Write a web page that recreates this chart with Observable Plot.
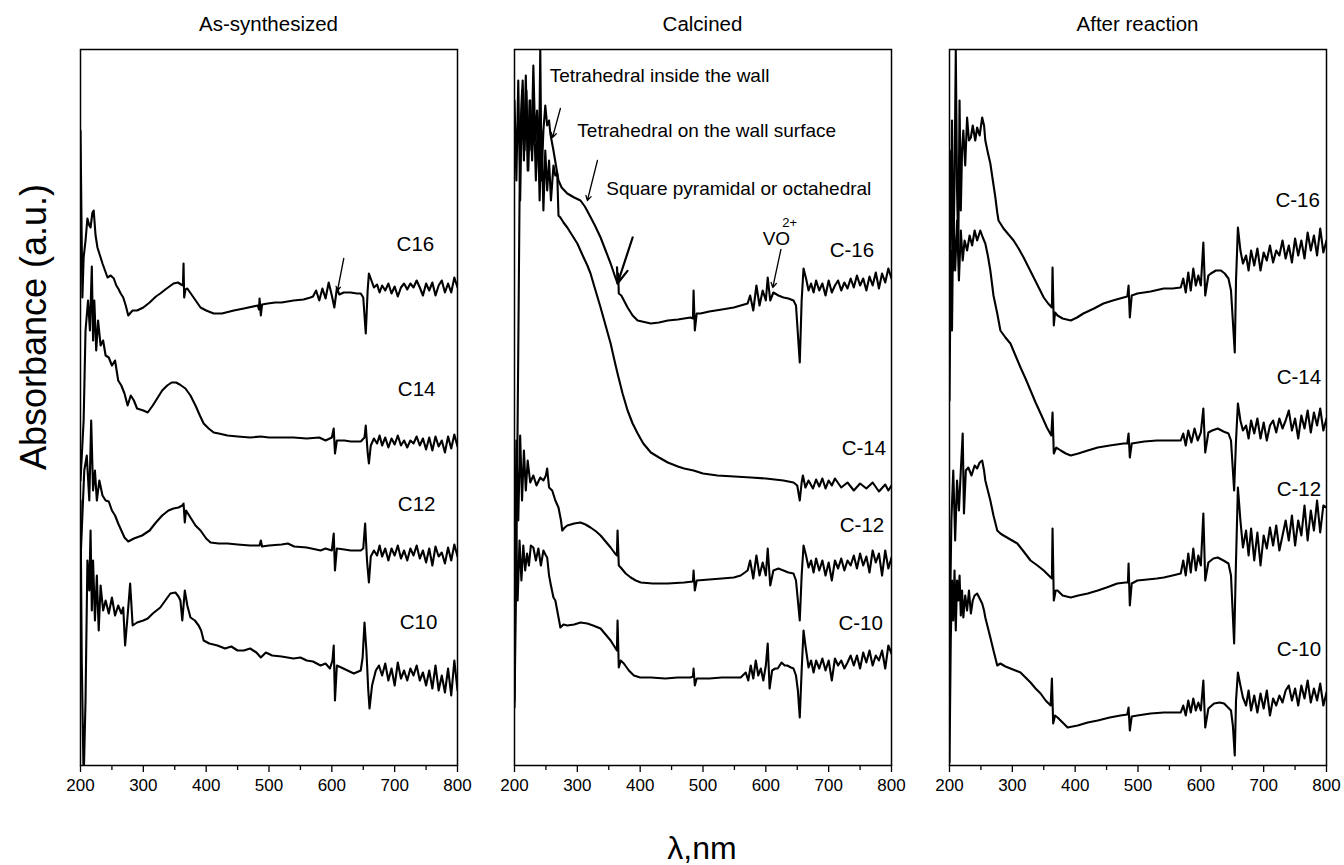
<!DOCTYPE html>
<html><head><meta charset="utf-8">
<script src="https://cdn.jsdelivr.net/npm/d3@7"></script>
<script src="https://cdn.jsdelivr.net/npm/@observablehq/plot@0.6"></script>
<style>
body{margin:0;background:#fff;font-family:"Liberation Sans",Arial,sans-serif;color:#000;}
#wrap{position:relative;width:1344px;height:865px;overflow:hidden;}
.abs{position:absolute;white-space:nowrap;}
</style></head><body><div id="wrap"></div>
<script>
// ---------- labels ----------
const panelTitles = ["As-synthesized", "Calcined", "After reaction"];
const majorTicks = [200, 300, 400, 500, 600, 700, 800];
const minorTicks = [250, 350, 450, 550, 650, 750];
const yLabel = "Absorbance (a.u.)";
const xLabel = "λ,nm";

// ---------- As-synthesized spectra [wavelength nm, absorbance a.u.] ----------
const asC16 = [[200,635],[203,468],[205,508],[208,525],[211,547],[214,540],[216,538],[219,553],[221,555],[224,530],[227,518],[231,510],[235,502],[239,495],[243,488],[248,490],[253,487],[257,480],[260,477],[264,472],[268,468],[272,460],[276,450],[280,453],[283,455],[290,455],[300,458],[310,463],[320,469],[327,472],[335,476],[348,482],[355,483],[360,481],[363,480],[364,502],[365,468],[367,476],[370,477],[380,468],[391,458],[400,455],[412,452],[425,452],[444,455],[460,457],[482,460],[484,456],[485,467],[487,450],[489,461],[498,462],[510,463],[520,463],[539,465],[555,466],[566,468],[570,469],[575,475],[580,465],[585,477],[590,467],[595,483],[600,470],[604,458],[608,477],[612,471],[619,473],[630,473],[640,472],[646,472],[650,468],[654,432],[657,475],[659,492],[663,485],[667,478],[672,481],[676,473],[680,480],[685,475],[690,482],[695,472],[700,479],[705,469],[710,478],[715,482],[720,476],[725,482],[730,478],[735,485],[740,478],[745,470],[750,482],[755,475],[760,483],[765,470],[770,480],[775,485],[780,473],[785,482],[790,473],[795,488],[800,478]];
const asC14 = [[200,285],[205,345],[208,435],[212,465],[215,435],[218,499],[220,425],[222,465],[225,415],[228,445],[232,420],[236,425],[240,410],[245,408],[250,400],[255,405],[260,385],[265,380],[270,372],[275,360],[280,370],[285,365],[290,357],[300,355],[307,353],[315,360],[322,367],[330,375],[338,380],[345,383],[352,383],[358,381],[367,377],[375,370],[383,360],[390,350],[396,342],[404,337],[412,333],[420,332],[434,330],[450,329],[470,328],[487,329],[500,328],[520,328],[539,328],[560,327],[580,328],[590,325],[600,328],[603,337],[605,312],[608,325],[620,325],[630,324],[646,324],[652,328],[654,340],[657,313],[659,302],[662,320],[667,327],[672,322],[676,330],[680,320],[685,328],[690,318],[695,327],[700,321],[705,330],[710,320],[715,325],[720,318],[725,325],[730,322],[735,329],[740,320],[745,327],[750,316],[755,328],[760,315],[765,329],[770,319],[775,325],[780,313],[785,329],[790,317],[795,331],[800,319]];
const asC12 = [[200,205],[206,295],[210,310],[214,265],[217,345],[220,275],[223,295],[226,265],[230,285],[235,270],[240,265],[245,264],[250,255],[255,250],[260,242],[265,235],[270,228],[276,224],[285,227],[298,230],[310,235],[320,243],[330,250],[340,255],[348,257],[356,258],[362,260],[364,262],[366,243],[368,255],[375,248],[383,240],[391,235],[400,227],[407,223],[420,222],[434,222],[450,221],[470,220],[485,220],[487,225],[489,219],[500,220],[520,221],[530,222],[540,219],[560,218],[575,216],[582,215],[590,217],[600,215],[603,232],[605,195],[608,217],[620,216],[630,215],[646,215],[650,217],[653,242],[656,205],[659,183],[662,209],[667,215],[672,210],[676,220],[680,209],[685,217],[690,205],[695,217],[700,210],[705,220],[710,207],[715,215],[720,205],[725,217],[730,210],[735,220],[740,207],[745,215],[750,203],[755,217],[760,200],[765,219],[770,209],[775,213],[780,202],[785,218],[790,205],[795,221],[800,209]];
const asC10 = [[200,265],[202,105],[205,-15],[208,65],[211,205],[214,175],[216,235],[218,155],[220,205],[223,145],[226,190],[229,135],[232,180],[236,155],[240,165],[245,152],[250,168],[255,150],[260,160],[265,152],[268,158],[271,120],[275,150],[279,182],[283,140],[290,143],[300,145],[307,147],[315,152],[327,158],[335,165],[343,172],[351,173],[356,169],[359,165],[362,145],[366,175],[370,160],[375,148],[382,145],[388,140],[392,135],[396,125],[405,122],[418,120],[430,117],[440,119],[450,115],[460,115],[470,117],[480,113],[487,108],[495,113],[505,110],[520,109],[539,107],[550,108],[560,105],[570,104],[582,100],[590,102],[597,97],[601,105],[603,120],[605,65],[608,100],[615,98],[625,95],[635,92],[646,95],[649,108],[652,143],[655,115],[658,75],[660,57],[664,80],[670,95],[675,100],[680,90],[685,102],[690,85],[695,97],[700,80],[705,103],[710,87],[715,95],[720,85],[725,97],[730,90],[735,100],[740,85],[745,93],[750,80],[755,95],[760,77],[765,100],[770,75],[775,90],[780,73],[785,97],[790,70],[795,105],[800,75]];

// ---------- Calcined spectra ----------
const caC16 = [[200,665],[203,585],[206,685],[209,565],[212,675],[215,605],[218,690],[221,595],[224,665],[227,615],[230,700],[233,625],[236,655],[239,595],[241,717],[243,585],[246,635],[249,660],[252,640],[255,645],[257,632],[262,615],[266,600],[270,585],[275,578],[284,572],[295,568],[305,565],[312,559],[318,552],[328,540],[337,528],[345,515],[353,502],[360,489],[364,482],[365,492],[366,472],[370,470],[380,458],[388,450],[396,445],[410,443],[417,442],[430,443],[444,445],[460,446],[480,448],[484,447],[485,475],[487,435],[490,452],[496,452],[510,454],[530,456],[549,458],[560,460],[571,462],[575,470],[580,455],[585,480],[590,460],[595,475],[600,465],[603,488],[607,465],[612,473],[620,470],[628,468],[636,467],[644,465],[648,460],[654,403],[657,465],[660,497],[664,487],[668,475],[672,482],[676,473],[680,485],[685,475],[690,482],[695,470],[700,485],[705,473],[710,480],[715,485],[720,475],[725,483],[730,477],[735,487],[740,478],[745,490],[750,480],[755,487],[760,475],[765,489],[770,480],[775,493],[780,477],[785,492],[790,483],[795,497],[800,487]];
const caC14 = [[200,58],[203,205],[206,415],[208,565],[210,645],[213,685],[216,615],[219,675],[222,595],[225,665],[228,605],[231,655],[234,585],[237,645],[240,565],[243,635],[246,555],[249,615],[252,575],[255,605],[258,565],[262,600],[265,590],[268,592],[270,550],[273,548],[278,543],[284,538],[292,530],[300,522],[305,515],[310,508],[316,500],[321,492],[328,477],[337,458],[345,440],[353,422],[358,408],[364,392],[372,372],[380,355],[388,342],[396,332],[405,322],[417,313],[430,308],[444,303],[460,299],[470,297],[485,295],[500,292],[523,290],[550,289],[576,288],[600,287],[628,285],[644,283],[650,280],[654,265],[657,283],[659,290],[663,278],[668,285],[675,277],[680,286],[685,279],[690,287],[695,277],[700,285],[705,280],[710,287],[720,278],[730,283],[740,275],[750,282],[760,277],[770,283],[780,274],[790,281],[795,275],[800,280]];
const caC12 = [[200,165],[203,325],[206,245],[209,330],[212,265],[215,315],[218,275],[221,305],[225,283],[230,290],[235,280],[241,288],[246,285],[250,290],[252,297],[255,278],[260,275],[265,265],[270,258],[274,245],[276,235],[280,238],[284,240],[295,242],[305,243],[313,241],[321,238],[330,234],[337,230],[345,224],[353,218],[360,212],[363,210],[364,235],[366,200],[369,198],[377,192],[385,188],[393,185],[401,183],[420,182],[444,182],[470,183],[484,184],[485,195],[487,175],[490,185],[510,186],[530,187],[549,188],[560,190],[571,195],[575,205],[580,187],[585,210],[590,190],[595,203],[600,190],[603,217],[607,180],[612,195],[620,197],[628,195],[636,193],[644,192],[648,185],[654,145],[657,190],[660,220],[664,210],[668,198],[672,205],[676,193],[680,207],[685,195],[690,205],[695,190],[700,203],[705,185],[710,205],[715,197],[720,207],[725,195],[730,205],[735,200],[740,210],[745,197],[750,212],[755,200],[760,209],[765,193],[770,215],[775,203],[780,212],[785,190],[790,215],[795,197],[800,208]];
const caC10 = [[200,65],[202,245],[205,165],[208,225],[211,185],[214,220],[217,195],[220,212],[223,200],[226,220],[230,218],[234,205],[238,217],[242,200],[246,215],[250,210],[252,208],[255,190],[258,180],[262,168],[265,165],[268,155],[273,138],[278,141],[284,140],[295,141],[305,143],[316,142],[325,140],[337,137],[345,131],[353,125],[360,118],[363,115],[364,145],[366,98],[369,105],[374,102],[382,95],[390,90],[400,88],[417,88],[440,87],[460,88],[480,88],[484,89],[485,97],[487,80],[490,87],[496,87],[510,87],[530,88],[550,88],[560,88],[568,93],[572,85],[576,100],[580,87],[584,105],[588,90],[592,97],[596,85],[600,100],[603,122],[606,77],[610,95],[615,97],[619,97],[625,103],[630,100],[634,100],[640,98],[644,97],[648,90],[651,75],[654,48],[657,95],[660,135],[663,120],[668,98],[672,105],[676,93],[680,105],[685,97],[690,107],[695,95],[700,105],[705,85],[710,107],[715,100],[720,105],[725,97],[730,103],[735,110],[740,100],[745,110],[750,97],[755,113],[760,103],[765,115],[770,100],[775,110],[780,105],[785,115],[790,97],[795,120],[800,112]];

// ---------- After-reaction spectra ----------
const arC16 = [[200,615],[202,515],[204,645],[206,495],[208,585],[210,715],[212,575],[214,515],[216,665],[218,555],[220,615],[222,635],[225,600],[228,648],[231,625],[234,628],[237,640],[241,625],[244,638],[248,630],[252,648],[255,640],[257,625],[261,613],[265,602],[269,585],[273,568],[276,553],[278,545],[282,541],[286,537],[294,531],[302,525],[310,517],[318,508],[326,498],[334,488],[342,478],[350,468],[357,462],[363,458],[364,498],[366,440],[368,453],[372,450],[380,447],[393,445],[403,448],[413,452],[430,457],[445,462],[460,465],[477,468],[483,469],[485,480],[487,448],[490,470],[499,472],[520,474],[541,477],[555,477],[568,478],[572,487],[576,473],[580,493],[584,475],[588,497],[592,480],[596,490],[600,480],[604,523],[607,470],[612,490],[616,492],[624,495],[632,495],[638,492],[644,487],[648,475],[654,413],[656,485],[659,538],[663,515],[667,502],[672,510],[676,495],[680,515],[685,500],[690,517],[695,495],[700,513],[705,505],[710,520],[715,503],[720,515],[725,510],[730,525],[735,507],[740,520],[745,503],[750,527],[755,510],[760,525],[765,507],[770,533],[775,515],[780,530],[785,510],[790,537],[795,513],[800,525]];
const arC14 = [[200,365],[202,515],[204,435],[206,555],[209,495],[212,545],[215,485],[218,535],[221,505],[224,525],[228,515],[232,530],[236,520],[240,535],[244,525],[249,535],[253,528],[257,522],[261,510],[265,495],[270,470],[276,452],[281,435],[289,428],[297,422],[305,410],[313,398],[321,387],[329,375],[337,363],[345,352],[355,338],[362,330],[364,353],[366,312],[370,318],[377,315],[385,312],[393,310],[405,312],[420,315],[436,318],[455,320],[477,322],[483,322],[485,332],[487,308],[490,322],[510,324],[530,325],[541,325],[555,325],[568,325],[572,332],[576,320],[580,335],[585,323],[590,337],[595,325],[600,333],[604,357],[607,313],[612,333],[618,335],[627,337],[636,334],[644,332],[648,325],[653,275],[656,325],[659,362],[663,345],[667,335],[672,340],[676,327],[680,345],[685,332],[690,347],[695,327],[700,343],[705,325],[710,340],[715,345],[720,333],[725,347],[730,337],[735,345],[740,355],[745,335],[750,347],[755,327],[760,350],[765,337],[770,355],[775,333],[780,353],[785,340],[790,357],[795,335],[800,347]];
const arC12 = [[200,115],[203,245],[206,295],[209,225],[212,285],[215,255],[218,295],[221,332],[223,252],[226,295],[230,298],[235,290],[240,300],[244,297],[248,303],[252,305],[255,295],[257,285],[261,275],[265,265],[270,250],[276,235],[281,232],[286,230],[297,226],[308,222],[318,214],[329,205],[340,200],[350,195],[358,190],[363,187],[364,237],[366,165],[369,175],[372,175],[380,170],[393,168],[405,170],[420,172],[436,175],[450,178],[467,182],[480,183],[484,183],[485,202],[487,160],[490,182],[499,185],[515,186],[530,187],[541,188],[555,190],[568,192],[572,205],[576,190],[580,212],[584,193],[588,217],[592,195],[596,210],[600,200],[604,252],[607,185],[612,203],[620,207],[627,208],[636,205],[644,202],[648,190],[653,122],[656,205],[659,278],[663,245],[667,218],[672,235],[676,210],[680,237],[685,205],[690,233],[695,200],[700,230],[705,217],[710,238],[715,220],[720,240],[725,215],[730,230],[735,245],[740,225],[745,250],[750,220],[755,245],[760,230],[765,260],[770,225],[775,255],[780,235],[785,265],[790,233],[795,260],[800,258]];
const arC10 = [[200,3],[202,125],[204,185],[206,145],[208,195],[210,135],[212,185],[214,165],[216,190],[218,150],[220,175],[222,148],[225,170],[228,155],[231,175],[234,152],[237,165],[240,170],[244,172],[248,167],[252,162],[255,155],[257,148],[261,138],[265,128],[270,115],[276,100],[281,102],[289,99],[297,97],[305,95],[313,93],[321,88],[329,83],[337,77],[345,72],[353,65],[361,60],[363,87],[365,42],[368,50],[372,48],[380,43],[388,38],[396,39],[404,40],[420,43],[436,45],[455,48],[472,50],[483,51],[485,58],[487,35],[490,49],[499,50],[520,52],[541,53],[555,53],[568,53],[572,60],[576,50],[580,65],[584,53],[588,67],[592,55],[596,63],[600,55],[604,85],[607,38],[612,57],[621,62],[630,63],[637,62],[648,55],[651,40],[654,10],[656,65],[659,93],[663,80],[667,68],[672,60],[676,75],[680,55],[685,70],[690,53],[695,72],[700,57],[705,75],[710,50],[715,67],[720,60],[725,70],[730,63],[735,75],[740,80],[745,65],[750,77],[755,60],[760,80],[765,67],[770,85],[775,63],[780,77],[785,65],[790,82],[795,60],[800,73]];

// ---------- panel definitions ----------
const seriesNames = [["C16","C14","C12","C10"],["C-16","C-14","C-12","C-10"],["C-16","C-14","C-12","C-10"]];
const panelSeries = [[asC16, asC14, asC12, asC10],[caC16, caC14, caC12, caC10],[arC16, arC14, arC12, arC10]];
// label anchor points (nm, a.u.) for each series name
const labelPos = [
  [[733,521],[735,376],[735,261],[738,143]],
  [[737,515],[756,317],[753,240],[751,142]],
  [[754,565],[756,388],[756,276],[756,116]]
];
const calcinedNotes = ["Tetrahedral inside the wall","Tetrahedral on the wall surface","Square pyramidal or octahedral"];

const wrap = document.getElementById("wrap");
const panelLeft = [80, 514, 949];
const plotW = 377, plotH = 716;
const mL = 20, mR = 20, mT = 10, mB = 45;

function makePanel(i) {
  const marks = [];
  marks.push(Plot.axisX({ticks: minorTicks, tickSize: 5, tickFormat: () => "", strokeWidth: 1.3, label: null}));
  marks.push(Plot.axisX({ticks: majorTicks, tickSize: 7, tickPadding: 6, tickFormat: d => String(d), strokeWidth: 1.3, fontSize: 17, label: null}));
  panelSeries[i].forEach(s => {
    marks.push(Plot.line(s, {x: d => d[0], y: d => d[1], stroke: "black", strokeWidth: 2.1, strokeLinejoin: "round", clip: true}));
  });
  marks.push(Plot.text(seriesNames[i].map((n, k) => ({n, x: labelPos[i][k][0], y: labelPos[i][k][1]})),
    {x: "x", y: "y", text: "n", fontSize: 20.5, fill: "black"}));
  if (i === 0) {
    marks.push(Plot.arrow([{x1: 619, y1: 507, x2: 609, y2: 475}], {x1: "x1", y1: "y1", x2: "x2", y2: "y2", stroke: "black", strokeWidth: 1.3, headLength: 5}));
  }
  if (i === 1) {
    marks.push(Plot.text([
      {t: calcinedNotes[0], x: 256, y: 690},
      {t: calcinedNotes[1], x: 300, y: 635},
      {t: calcinedNotes[2], x: 346, y: 577}
    ], {x: "x", y: "y", text: "t", textAnchor: "start", fontSize: 19, fill: "black"}));
    marks.push(Plot.text([{t: "VO", x: 595, y: 527}], {x: "x", y: "y", text: "t", textAnchor: "start", fontSize: 19, fill: "black"}));
    marks.push(Plot.text([{t: "2+", x: 626, y: 543}], {x: "x", y: "y", text: "t", textAnchor: "start", fontSize: 13, fill: "black"}));
    marks.push(Plot.arrow([
      {x1: 273, y1: 657, x2: 260.5, y2: 628, w: 1.3},
      {x1: 332, y1: 605, x2: 316, y2: 565, w: 1.3},
      {x1: 624, y1: 516, x2: 611, y2: 478, w: 1.3}
    ], {x1: "x1", y1: "y1", x2: "x2", y2: "y2", stroke: "black", strokeWidth: "w", headLength: 8}));
    marks.push(Plot.arrow([{x1: 388, y1: 528, x2: 364, y2: 482}], {x1: "x1", y1: "y1", x2: "x2", y2: "y2", stroke: "black", strokeWidth: 2.2, headLength: 12, headAngle: 40}));
  }
  marks.push(Plot.frame({stroke: "black", strokeWidth: 1.5}));
  const svg = Plot.plot({
    width: plotW + mL + mR,
    height: plotH + mT + mB,
    marginLeft: mL, marginRight: mR, marginTop: mT, marginBottom: mB,
    style: {fontFamily: "'Liberation Sans', Arial, sans-serif", fontSize: "17px", color: "black", background: "white", overflow: "visible"},
    x: {domain: [200, 800], axis: null},
    y: {domain: [0, 716], axis: null},
    marks
  });
  svg.style.position = "absolute";
  svg.style.left = (panelLeft[i] - mL) + "px";
  svg.style.top = (49 - mT) + "px";
  wrap.appendChild(svg);

  const t = document.createElement("div");
  t.className = "abs";
  t.textContent = panelTitles[i];
  t.style.fontSize = "20.5px";
  t.style.left = (panelLeft[i] + plotW / 2) + "px";
  t.style.top = "24px";
  t.style.transform = "translate(-50%, -50%)";
  wrap.appendChild(t);
}
[0, 1, 2].forEach(makePanel);

const yl = document.createElement("div");
yl.className = "abs";
yl.textContent = yLabel;
yl.style.fontSize = "36px";
yl.style.left = "34px";
yl.style.top = "327px";
yl.style.transform = "translate(-50%, -50%) rotate(-90deg)";
wrap.appendChild(yl);

const xl = document.createElement("div");
xl.className = "abs";
xl.textContent = xLabel;
xl.style.fontSize = "32px";
xl.style.left = "702px";
xl.style.top = "848px";
xl.style.transform = "translate(-50%, -50%)";
wrap.appendChild(xl);
</script>
</body></html>
